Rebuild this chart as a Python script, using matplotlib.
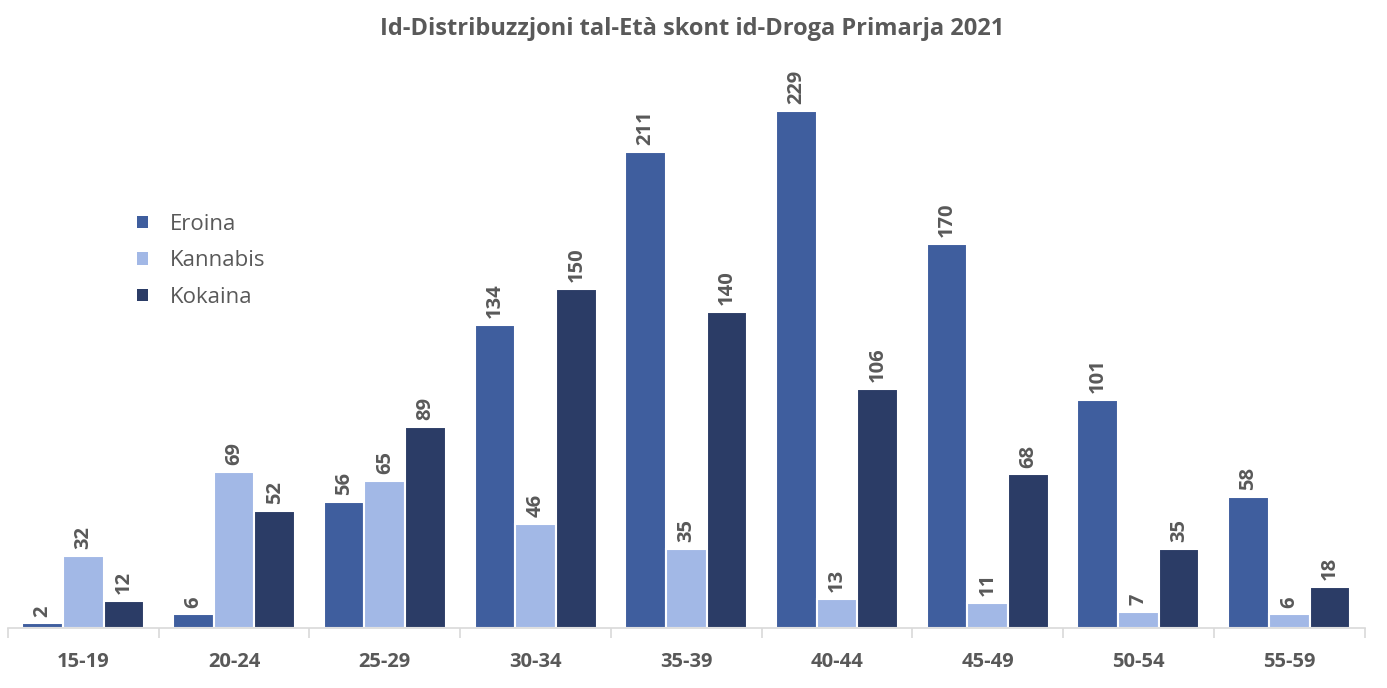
import matplotlib.pyplot as plt
import numpy as np
from matplotlib.patches import Patch

plt.rcParams["font.family"] = ["Open Sans", "DejaVu Sans"]

age_groups = ["15-19", "20-24", "25-29", "30-34", "35-39",
              "40-44", "45-49", "50-54", "55-59"]
eroina = [2, 6, 56, 134, 211, 229, 170, 101, 58]
kannabis = [32, 69, 65, 46, 35, 13, 11, 7, 6]
kokaina = [12, 52, 89, 150, 140, 106, 68, 35, 18]

series = [("Eroina", eroina, "#3F5E9E"),
          ("Kannabis", kannabis, "#A2B8E6"),
          ("Kokaina", kokaina, "#2B3C66")]

text_grey = "#595959"

fig = plt.figure(figsize=(13.87, 6.88), dpi=100)
ax = fig.add_axes([0.0058, 0.0872, 0.978, 0.8205])

x = np.arange(len(age_groups))
width = 0.27
for i, (name, vals, col) in enumerate(series):
    pos = x + (i - 1) * width
    bars = ax.bar(pos, vals, width=width, color=col, edgecolor="white",
                  linewidth=1.5, label=name)
    for b, v in zip(bars, vals):
        ax.annotate(str(v), (b.get_x() + b.get_width() / 2, v),
                    xytext=(0, 5), textcoords="offset points",
                    rotation=90, ha="center", va="bottom",
                    fontsize=14.5, fontweight="bold", color=text_grey)

ax.set_xlim(-0.5, len(age_groups) - 0.5)
ax.set_ylim(0, 250)

for side in ["top", "right", "left"]:
    ax.spines[side].set_visible(False)
ax.spines["bottom"].set_color("#D9D9D9")
ax.spines["bottom"].set_linewidth(1.2)
ax.set_yticks([])

ax.set_xticks(x)
ax.set_xticklabels(age_groups, fontsize=14.5, fontweight="bold", color=text_grey)
ax.tick_params(axis="x", which="major", length=0, pad=17)
ax.set_xticks(np.arange(-0.5, len(age_groups)), minor=True)
ax.tick_params(axis="x", which="minor", length=7, color="#D9D9D9", width=1.2)

fig.suptitle("Id-Distribuzzjoni tal-Età skont id-Droga Primarja 2021",
             x=0.499, y=0.975, fontsize=17, fontweight="bold", color=text_grey)

handles = [Patch(facecolor=c, edgecolor="none") for _, _, c in series]
leg = ax.legend(handles, [s[0] for s in series], loc="upper left",
                bbox_to_anchor=(0.080, 0.769), frameon=False, fontsize=16,
                handlelength=0.5, handleheight=0.5, handletextpad=1.0,
                labelspacing=0.7, labelcolor=text_grey)

fig.savefig("out.png", dpi=100)
